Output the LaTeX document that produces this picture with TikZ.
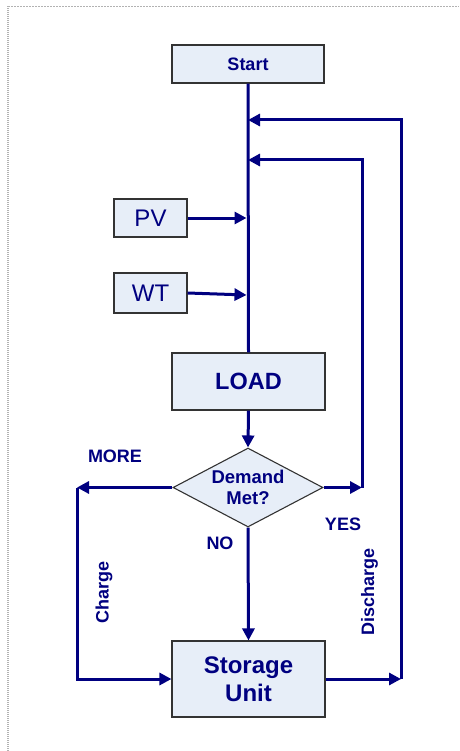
\documentclass[tikz,border=0pt]{standalone}
\usepackage{fontspec}
\setmainfont{Liberation Sans}
\usetikzlibrary{shapes.geometric,arrows.meta}
\definecolor{navy}{RGB}{0,0,128}
\definecolor{boxfill}{RGB}{231,238,248}
\begin{document}
\begin{tikzpicture}[x=1pt,y=-1pt,
  flowbox/.style={draw=black!80,line width=1.1pt,fill=boxfill,inner sep=0pt,text=navy,align=center},
  lbl/.style={text=navy,font=\fontsize{18}{20}\selectfont\bfseries,inner sep=0pt},
  wire/.style={draw=navy,line width=3pt},
  arr/.style={wire,-{Triangle[length=12pt,width=12pt]}}]
\useasboundingbox (0,0) rectangle (459,751);
% dotted page border
\draw[gray!60,line width=0.8pt,dash pattern=on 2pt off 1pt] (8,6) -- (459,6);
\draw[gray!60,line width=2pt,dash pattern=on 1pt off 1pt] (8,6) -- (8,751);
% nodes
\node[flowbox,minimum width=152pt,minimum height=38pt,font=\fontsize{18}{20}\selectfont\bfseries] (start) at (248,64) {Start};
\node[flowbox,minimum width=73pt,minimum height=38pt,font=\fontsize{24}{26}\selectfont] (pv) at (150.5,218) {PV};
\node[flowbox,minimum width=73pt,minimum height=40pt,font=\fontsize{24}{26}\selectfont] (wt) at (150.5,293) {WT};
\node[flowbox,minimum width=153pt,minimum height=57pt,font=\fontsize{23.5}{26}\selectfont\bfseries] (load) at (248.5,381.5) {LOAD};
\node[flowbox,shape=diamond,shape aspect=1.9,minimum width=150pt,minimum height=79pt,font=\fontsize{18.5}{21}\selectfont\bfseries] (d) at (248,487.5) {Demand\\Met?};
\node[flowbox,minimum width=153pt,minimum height=76pt,font=\fontsize{24}{28}\selectfont\bfseries] (s) at (248.5,679) {Storage\\Unit};
% junction coordinates
\coordinate (j1) at (248,120);
\coordinate (j2) at (248,160);
\coordinate (jpv) at (246.5,218);
\coordinate (jwt) at (246.5,295);
\coordinate (ml) at (77,487.5);
\coordinate (yr) at (362,487.5);
\coordinate (dr) at (401,679);
% connectors
\draw[wire] (start.south) -- (load.north);
\draw[arr] (pv.east) -- (jpv);
\draw[arr] (wt.east) -- (jwt);
\draw[arr] (load.south) -- (d.north);
\draw[arr] (d.south) -- (s.north);
\draw[arr] (d.west) -- (ml);
\draw[arr] (ml) |- (s.west);
\draw[arr] (d.east) -- (yr);
\draw[arr] (yr) |- (j2);
\draw[arr] (s.east) -- (dr);
\draw[arr] (dr) |- (j1);
% labels
\node[lbl] (more) at (115,456) {MORE};
\node[lbl] (yes) at (343,524) {YES};
\node[lbl] (no) at (220,543) {NO};
\node[lbl,rotate=90] (charge) at (104,592) {Charge};
\node[lbl,rotate=90] (discharge) at (369.5,592) {Discharge};
\end{tikzpicture}
\end{document}
